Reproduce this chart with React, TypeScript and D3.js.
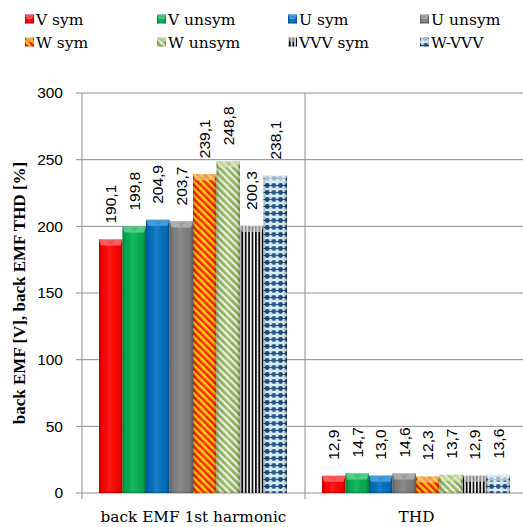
import React from "react";
import * as d3 from "d3";

// Chart data
const categories = ["back EMF 1st harmonic", "THD"];
const seriesNames = ["V sym", "V unsym", "U sym", "U unsym", "W sym", "W unsym", "VVV sym", "W-VVV"];
const emfValues = [190.1, 199.8, 204.9, 203.7, 239.1, 248.8, 200.3, 238.1];
const thdValues = [12.9, 14.7, 13.0, 14.6, 12.3, 13.7, 12.9, 13.6];
const yTicks = [0, 50, 100, 150, 200, 250, 300];

const valuesByCategory = [emfValues, thdValues];

const W = 523;
const H = 527;
const plot = { left: 82, right: 528, top: 93, bottom: 493 };

const serif = "'DejaVu Serif', serif";
const titleSerif = "'Liberation Serif', serif";
const sans = "'Liberation Sans', Arial, sans-serif";
const gridColor = "#8c8c8c";

const fills = [
  "#ff0000",
  "#00b050",
  "#0070c0",
  "#808080",
  "url(#pWsym)",
  "url(#pWunsym)",
  "url(#pVVV)",
  "url(#pWVVV)",
];
// top-bevel tint per series
const bevelTint = ["#ff8080", "#70e0a0", "#60b0f0", "#c0c0c0", "#ffd080", "#d8e8b8", "#d0d0d0", "#e8f4fa"];

function fmt(v: number) {
  return v.toFixed(1).replace(".", ",");
}

function Defs() {
  return (
    <defs>
      <pattern id="pWsym" width={5} height={5} patternUnits="userSpaceOnUse" patternTransform="rotate(-45)">
        <rect width={5} height={5} fill="#ffd200" />
        <rect width={2.5} height={5} fill="#ff1a00" />
      </pattern>
      <pattern id="pWunsym" width={5} height={5} patternUnits="userSpaceOnUse" patternTransform="rotate(-45)">
        <rect width={5} height={5} fill="#f4f8ec" />
        <rect width={2.7} height={5} fill="#8fb55a" />
      </pattern>
      <pattern id="pVVV" width={3.4} height={4} patternUnits="userSpaceOnUse">
        <rect width={3.4} height={4} fill="#ffffff" />
        <rect width={1.8} height={4} fill="#000000" />
      </pattern>
      <pattern id="pWVVV" width={6.6} height={7} patternUnits="userSpaceOnUse">
        <rect width={6.6} height={7} fill="#dcf0f8" />
        <line x1={0} y1={3.5} x2={6.6} y2={3.5} stroke="#1f4e84" strokeWidth={1} />
        <circle cx={3.3} cy={3.5} r={2.4} fill="#1a4a80" />
      </pattern>
      <linearGradient id="shadeH" x1="0" x2="1" y1="0" y2="0">
        <stop offset="0" stopColor="#000" stopOpacity={0.28} />
        <stop offset="0.12" stopColor="#000" stopOpacity={0.06} />
        <stop offset="0.45" stopColor="#fff" stopOpacity={0.1} />
        <stop offset="0.85" stopColor="#000" stopOpacity={0.04} />
        <stop offset="1" stopColor="#000" stopOpacity={0.3} />
      </linearGradient>
    </defs>
  );
}

function Bar({ x, y, w, h, i }: { x: number; y: number; w: number; h: number; i: number }) {
  const bev = Math.min(6, h / 2);
  return (
    <g>
      <rect x={x} y={y} width={w} height={h} fill={fills[i]} />
      <rect x={x} y={y} width={w} height={h} fill="url(#shadeH)" />
      {/* bevelled top edge */}
      <polygon
        points={`${x},${y} ${x + w},${y} ${x + w - 2},${y + bev} ${x + 2},${y + bev}`}
        fill={bevelTint[i]}
        opacity={0.7}
      />
      <polygon
        points={`${x + w / 2 - 4},${y + 1} ${x + w / 2 + 4},${y + 1} ${x + w / 2},${y + bev}`}
        fill="#000"
        opacity={0.1}
      />
      <rect x={x} y={y + h - 1.5} width={w} height={1.5} fill="#000" opacity={0.15} />
    </g>
  );
}

export default function App() {
  const x0 = d3.scaleBand<string>().domain(categories).range([plot.left, plot.right]);
  const y = d3.scaleLinear().domain([0, 300]).range([plot.bottom, plot.top]);
  const x1 = d3
    .scaleBand<string>()
    .domain(seriesNames)
    .range([17, 205]);
  const bw = x1.bandwidth();

  const legendCols = [25, 157, 288, 420];
  const legendRows = [19, 42];

  return (
    <svg
      width={W}
      height={H}
      style={{ position: "absolute", left: 0, top: 0, background: "#fff" }}
      xmlns="http://www.w3.org/2000/svg"
    >
      <Defs />

      {/* legend */}
      {seriesNames.map((name, i) => {
        const cx = legendCols[i % 4];
        const cy = legendRows[Math.floor(i / 4)];
        return (
          <g key={name}>
            <Bar x={cx} y={cy - 4.5} w={9} h={9} i={i} />
            <text x={cx + 11} y={cy + 5.5} fontFamily={serif} fontSize={15.5} fill="#000">
              {name}
            </text>
          </g>
        );
      })}

      {/* horizontal gridlines and y ticks */}
      {yTicks.map((t) => (
        <g key={t}>
          <line x1={plot.left - 6} x2={plot.right} y1={y(t)} y2={y(t)} stroke={gridColor} strokeWidth={1} />
          <text
            x={63}
            y={y(t)}
            dy="0.35em"
            textAnchor="end"
            fontFamily={sans}
            fontSize={15.5}
            fill="#000"
          >
            {t}
          </text>
        </g>
      ))}

      {/* vertical axis and category separators */}
      {[plot.left, plot.left + x0.step()].map((xv, k) => (
        <line key={k} x1={xv} x2={xv} y1={plot.top} y2={plot.bottom + 6} stroke={gridColor} strokeWidth={1} />
      ))}

      {/* bars and value labels */}
      {categories.map((cat, ci) => {
        const base = x0(cat) as number;
        return (
          <g key={cat}>
            {valuesByCategory[ci].map((v, i) => {
              const bx = base + (x1(seriesNames[i]) as number);
              const by = y(v);
              return (
                <g key={i}>
                  <Bar x={bx} y={by} w={bw} h={y(0) - by} i={i} />
                  <text
                    transform={`translate(${bx + bw / 2 + 5.5},${by - 16}) rotate(-90)`}
                    fontFamily={sans}
                    fontSize={15.5}
                    fill="#000"
                  >
                    {fmt(v)}
                  </text>
                </g>
              );
            })}
            <text
              x={base + x0.bandwidth() / 2}
              y={522}
              textAnchor="middle"
              fontFamily={serif}
              fontSize={15.3}
              fill="#000"
            >
              {cat}
            </text>
          </g>
        );
      })}

      {/* y axis title */}
      <text
        transform={`translate(25,${(plot.top + plot.bottom) / 2}) rotate(-90)`}
        textAnchor="middle"
        fontFamily={titleSerif}
        fontWeight="bold"
        fontSize={17}
        fill="#000"
      >
        back EMF [V], back EMF THD [%]
      </text>
    </svg>
  );
}
